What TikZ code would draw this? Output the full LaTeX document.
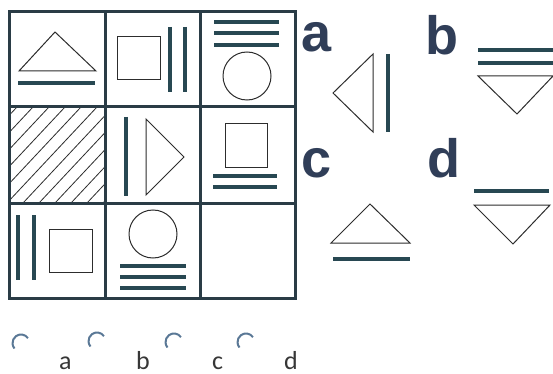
\documentclass[tikz,border=0pt]{standalone}
\usepackage{fontspec}
\newfontfamily\boldsans{Liberation Sans}
\newfontfamily\calib{Carlito}
\definecolor{gridc}{RGB}{42,60,70}
\definecolor{barc}{RGB}{40,72,82}
\definecolor{linec}{RGB}{45,45,45}
\definecolor{letc}{RGB}{48,62,88}
\definecolor{radc}{RGB}{90,120,150}
\definecolor{labc}{RGB}{55,55,55}
\begin{document}
\begin{tikzpicture}[x=1pt,y=-1pt,
  gridline/.style={draw=gridc,line width=3pt},
  bar/.style={draw=barc,line width=3.2pt},
  thin/.style={draw=linec,line width=1pt,line join=miter},
  hatch/.style={draw=linec,line width=0.8pt},
  bigletter/.style={text=letc,font=\boldsans\bfseries\fontsize{54}{54}\selectfont,inner sep=0pt,anchor=base west},
  optlabel/.style={text=labc,font=\calib\fontsize{26}{26}\selectfont,inner sep=0pt,text depth=0pt,anchor=base west},
  radio/.style={draw=radc,line width=2pt}]
\useasboundingbox (0,0) rectangle (553,374);
\fill[white] (0,0) rectangle (553,374);
% hatched cell
\begin{scope}
  \clip (9,107) rectangle (105,203);
  \foreach \k in {-7,...,13}{
    \draw[hatch] ({17+16*\k},107) -- ({17+16*\k-90},203);
  }
\end{scope}
% grid
\draw[gridline] (9,12) rectangle (295,298);
\draw[gridline] (105,12) -- (105,298);
\draw[gridline] (200,12) -- (200,298);
\draw[gridline] (9,107) -- (295,107);
\draw[gridline] (9,203) -- (295,203);
% cell 1
\draw[thin] (55,32) -- (96,71) -- (19,71) -- cycle;
\draw[bar] (18,83) -- (95,83);
% cell 2
\draw[thin] (117,37) rectangle (160,80);
\draw[bar] (170,27) -- (170,92);
\draw[bar] (185,27) -- (185,92);
% cell 3
\draw[bar] (214,22) -- (279,22);
\draw[bar] (214,33) -- (279,33);
\draw[bar] (214,45) -- (279,45);
\draw[thin] (247,76) circle (24);
% cell 5
\draw[bar] (126,117) -- (126,196);
\draw[thin] (146,119) -- (184,157) -- (146,195) -- cycle;
% cell 6
\draw[thin] (225,124) rectangle (267,167);
\draw[bar] (213,176) -- (277,176);
\draw[bar] (213,187) -- (277,187);
% cell 7
\draw[bar] (18,215) -- (18,280);
\draw[bar] (34,215) -- (34,280);
\draw[thin] (49,229) rectangle (92,272);
% cell 8
\draw[thin] (153,234) circle (24);
\draw[bar] (120,266) -- (186,266);
\draw[bar] (120,277) -- (186,277);
\draw[bar] (120,288) -- (186,288);
% options
\node[bigletter] (la) at (301,52) {a};
\node[bigletter] (lb) at (425,55) {b};
\node[bigletter] (lc) at (301,177) {c};
\node[bigletter] (ld) at (427,177) {d};
% option a
\draw[thin] (373,54) -- (333,93) -- (373,132) -- cycle;
\draw[bar] (388,54) -- (388,132);
% option b
\draw[bar] (478,50) -- (553,50);
\draw[bar] (478,63) -- (553,63);
\draw[thin] (478,76) -- (553,76) -- (517,114) -- cycle;
% option c
\draw[thin] (370,204) -- (410,243) -- (331,243) -- cycle;
\draw[bar] (333,259) -- (410,259);
% option d
\draw[bar] (474,191) -- (549,191);
\draw[thin] (474,205) -- (550,205) -- (513,244) -- cycle;
% answer row
\foreach \cx/\cy in {21/343, 97/341, 174/342, 246/342}{
  \draw[radio] ({\cx+8.5*cos(-35)},{\cy+8.5*sin(-35)}) arc[start angle=-35,end angle=-220,radius=8.5];
}
\node[optlabel] (oa) at (59,369) {a};
\node[optlabel] (ob) at (136,369) {b};
\node[optlabel] (oc) at (212,369) {c};
\node[optlabel] (od) at (284,369) {d};
\end{tikzpicture}
\end{document}
